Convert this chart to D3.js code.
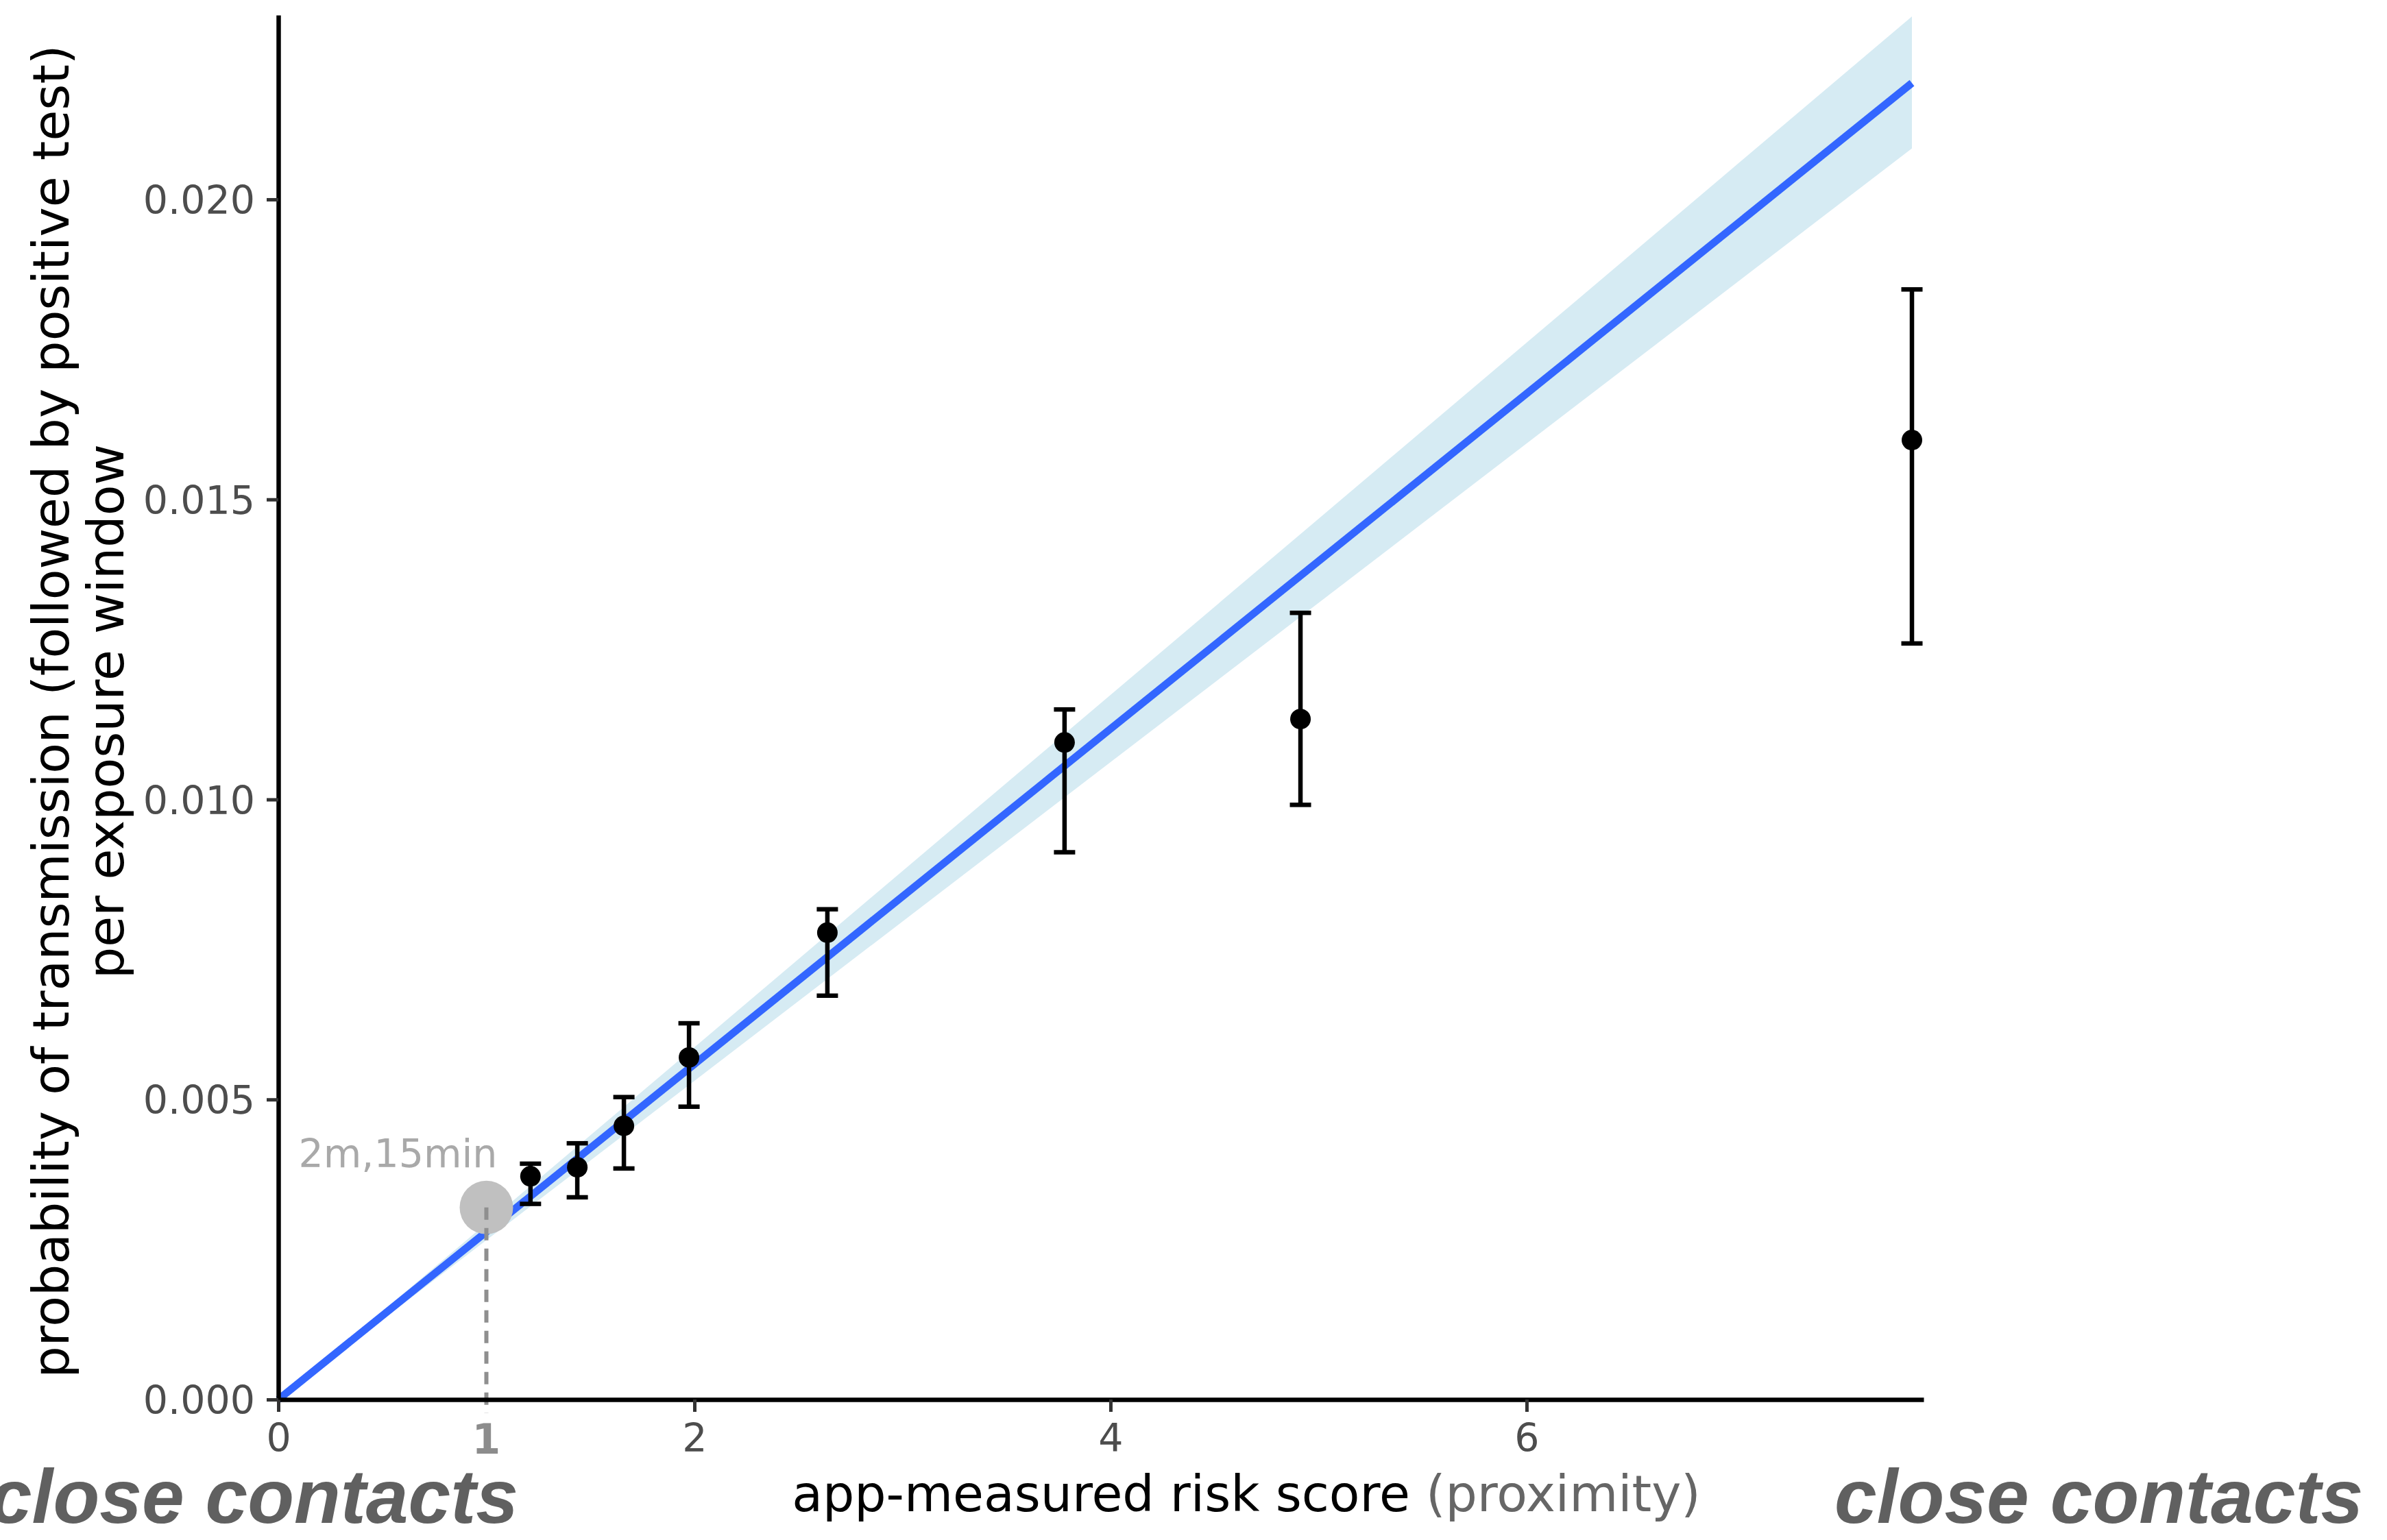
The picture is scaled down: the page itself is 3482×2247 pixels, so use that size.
<!DOCTYPE html>
<html>
<head>
<meta charset="utf-8">
<script src="https://cdn.jsdelivr.net/npm/d3@7"></script>
<style>
  html, body { margin: 0; padding: 0; background: #ffffff; }
  svg { display: block; }
</style>
</head>
<body>
<div id="chart"></div>
<script>
// ---------------- data ----------------
const riskScore   = [1.212, 1.437, 1.661, 1.974, 2.639, 3.779, 4.913, 7.852];
const probability = [0.00372, 0.00387, 0.00456, 0.00570, 0.00778, 0.01095, 0.01134, 0.01599];
const ciLower     = [0.00326, 0.00337, 0.00385, 0.00488, 0.00673, 0.00912, 0.00991, 0.01260];
const ciUpper     = [0.00393, 0.00427, 0.00504, 0.00627, 0.00817, 0.01150, 0.01311, 0.01850];

// fitted line (through origin) and its confidence band
const fitX      = [0, 7.852];
const fitY      = [0, 0.02194];
const fitLower  = [0, 0.02085];
const fitUpper  = [0, 0.02305];

// reference marker "2m,15min"
const refX = 1;
const refY = 0.0032;
const refLabel = "2m,15min";
const refLabelPos = [0.575, 0.00387];

const xTicks = [0, 2, 4, 6];
const yTicks = [0, 0.005, 0.010, 0.015, 0.020];
const xDomain = [0, 7.908];
const yDomain = [0, 0.023072];

const yTitleLines = ["probability of transmission (followed by positive test)", "per exposure window"];
const xTitleMain = "app-measured risk score";
const xTitleExtra = " (proximity)";
const sideLabel = "close contacts";

// ---------------- layout ----------------
const W = 3482, H = 2247;
const plot = { left: 406, right: 2806, top: 22, bottom: 2042 };

const svg = d3.select("#chart").append("svg")
  .attr("width", W).attr("height", H)
  .attr("viewBox", `0 0 ${W} ${H}`)
  .style("background", "#ffffff");

const x = d3.scaleLinear().domain(xDomain).range([plot.left, plot.right]);
const y = d3.scaleLinear().domain(yDomain).range([plot.bottom, plot.top]);

const FONT = "'DejaVu Sans', Verdana, sans-serif";

// ---------------- confidence band + fit line ----------------
const bandData = fitX.map((v, i) => ({ x: v, lo: fitLower[i], hi: fitUpper[i], f: fitY[i] }));
svg.append("path")
  .datum(bandData)
  .attr("d", d3.area().x(d => x(d.x)).y0(d => y(d.lo)).y1(d => y(d.hi)))
  .attr("fill", "#d6ebf3");

svg.append("path")
  .datum(bandData)
  .attr("d", d3.line().x(d => x(d.x)).y(d => y(d.f)))
  .attr("fill", "none")
  .attr("stroke", "#3366ff")
  .attr("stroke-width", 11)
  .attr("stroke-linecap", "butt");

// ---------------- reference marker ----------------
svg.append("circle")
  .attr("cx", x(refX)).attr("cy", y(refY)).attr("r", 39)
  .attr("fill", "#c0c0c0");

svg.append("line")
  .attr("x1", x(refX)).attr("x2", x(refX))
  .attr("y1", y(refY)).attr("y2", y(0) + 20)
  .attr("stroke", "#8f8f8f")
  .attr("stroke-width", 6)
  .attr("stroke-dasharray", "18,12");

svg.append("text")
  .attr("x", x(refLabelPos[0])).attr("y", y(refLabelPos[1]))
  .attr("text-anchor", "middle")
  .attr("font-family", FONT).attr("font-size", 57)
  .attr("fill", "#a9a9a9")
  .text(refLabel);

// ---------------- axes ----------------
const xAxis = svg.append("g")
  .attr("transform", `translate(0,${plot.bottom})`)
  .call(d3.axisBottom(x).tickValues(xTicks).tickFormat(d3.format("d"))
        .tickSize(18).tickSizeOuter(0).tickPadding(18));
const yAxis = svg.append("g")
  .attr("transform", `translate(${plot.left},0)`)
  .call(d3.axisLeft(y).tickValues(yTicks).tickFormat(d3.format(".3f"))
        .tickSize(17).tickSizeOuter(0).tickPadding(17));

[xAxis, yAxis].forEach(g => {
  g.select(".domain").attr("stroke", "#000").attr("stroke-width", 6.5);
  g.selectAll(".tick line").attr("stroke", "#333333").attr("stroke-width", 5);
  g.selectAll(".tick text")
    .attr("font-family", FONT).attr("font-size", 57).attr("fill", "#4d4d4d");
});
yAxis.selectAll(".tick text").attr("dy", "0.36em");

// grey highlighted tick label "1"
svg.append("text")
  .attr("x", x(refX)).attr("y", plot.bottom + 36)
  .attr("dy", "0.71em")
  .attr("text-anchor", "middle")
  .attr("font-family", FONT).attr("font-size", 60).attr("font-weight", "bold")
  .attr("fill", "#8c8c8c")
  .text(String(refX));

// ---------------- error bars and points ----------------
const pts = riskScore.map((v, i) => ({ x: v, y: probability[i], lo: ciLower[i], hi: ciUpper[i] }));
const eb = svg.append("g").attr("stroke", "#000").attr("stroke-width", 6.5);
eb.selectAll("line.stem").data(pts).join("line")
  .attr("class", "stem")
  .attr("x1", d => x(d.x)).attr("x2", d => x(d.x))
  .attr("y1", d => y(d.lo)).attr("y2", d => y(d.hi));
eb.selectAll("line.capHi").data(pts).join("line")
  .attr("class", "capHi")
  .attr("x1", d => x(d.x) - 15.5).attr("x2", d => x(d.x) + 15.5)
  .attr("y1", d => y(d.hi)).attr("y2", d => y(d.hi));
eb.selectAll("line.capLo").data(pts).join("line")
  .attr("class", "capLo")
  .attr("x1", d => x(d.x) - 15.5).attr("x2", d => x(d.x) + 15.5)
  .attr("y1", d => y(d.lo)).attr("y2", d => y(d.lo));

svg.append("g").selectAll("circle").data(pts).join("circle")
  .attr("cx", d => x(d.x)).attr("cy", d => y(d.y)).attr("r", 15)
  .attr("fill", "#000");

// ---------------- axis titles ----------------
const yTitle = svg.append("text")
  .attr("transform", `translate(100,${(plot.top + plot.bottom) / 2 + 6}) rotate(-90)`)
  .attr("text-anchor", "middle")
  .attr("font-family", FONT).attr("font-size", 73).attr("fill", "#000");
yTitle.selectAll("tspan").data(yTitleLines).join("tspan")
  .attr("x", 0).attr("dy", (d, i) => i === 0 ? 0 : 80)
  .text(d => d);

const xTitle = svg.append("text")
  .attr("y", 2205)
  .attr("font-family", FONT).attr("font-size", 73);
const mainSpan = xTitle.append("tspan").attr("fill", "#000").text(xTitleMain);
xTitle.append("tspan").attr("fill", "#666666").text(xTitleExtra);
const mainLen = mainSpan.node().getComputedTextLength();
xTitle.attr("x", (plot.left + plot.right) / 2 - mainLen / 2);

// ---------------- side labels ----------------
svg.append("text")
  .attr("x", 756).attr("y", 2222)
  .attr("text-anchor", "end")
  .attr("font-family", "'Liberation Sans', Arial, sans-serif")
  .attr("font-size", 111).attr("font-weight", "bold").attr("font-style", "italic")
  .attr("fill", "#606060")
  .text(sideLabel);
svg.append("text")
  .attr("x", 2676).attr("y", 2222)
  .attr("text-anchor", "start")
  .attr("font-family", "'Liberation Sans', Arial, sans-serif")
  .attr("font-size", 111).attr("font-weight", "bold").attr("font-style", "italic")
  .attr("fill", "#606060")
  .text(sideLabel);
</script>
</body>
</html>
